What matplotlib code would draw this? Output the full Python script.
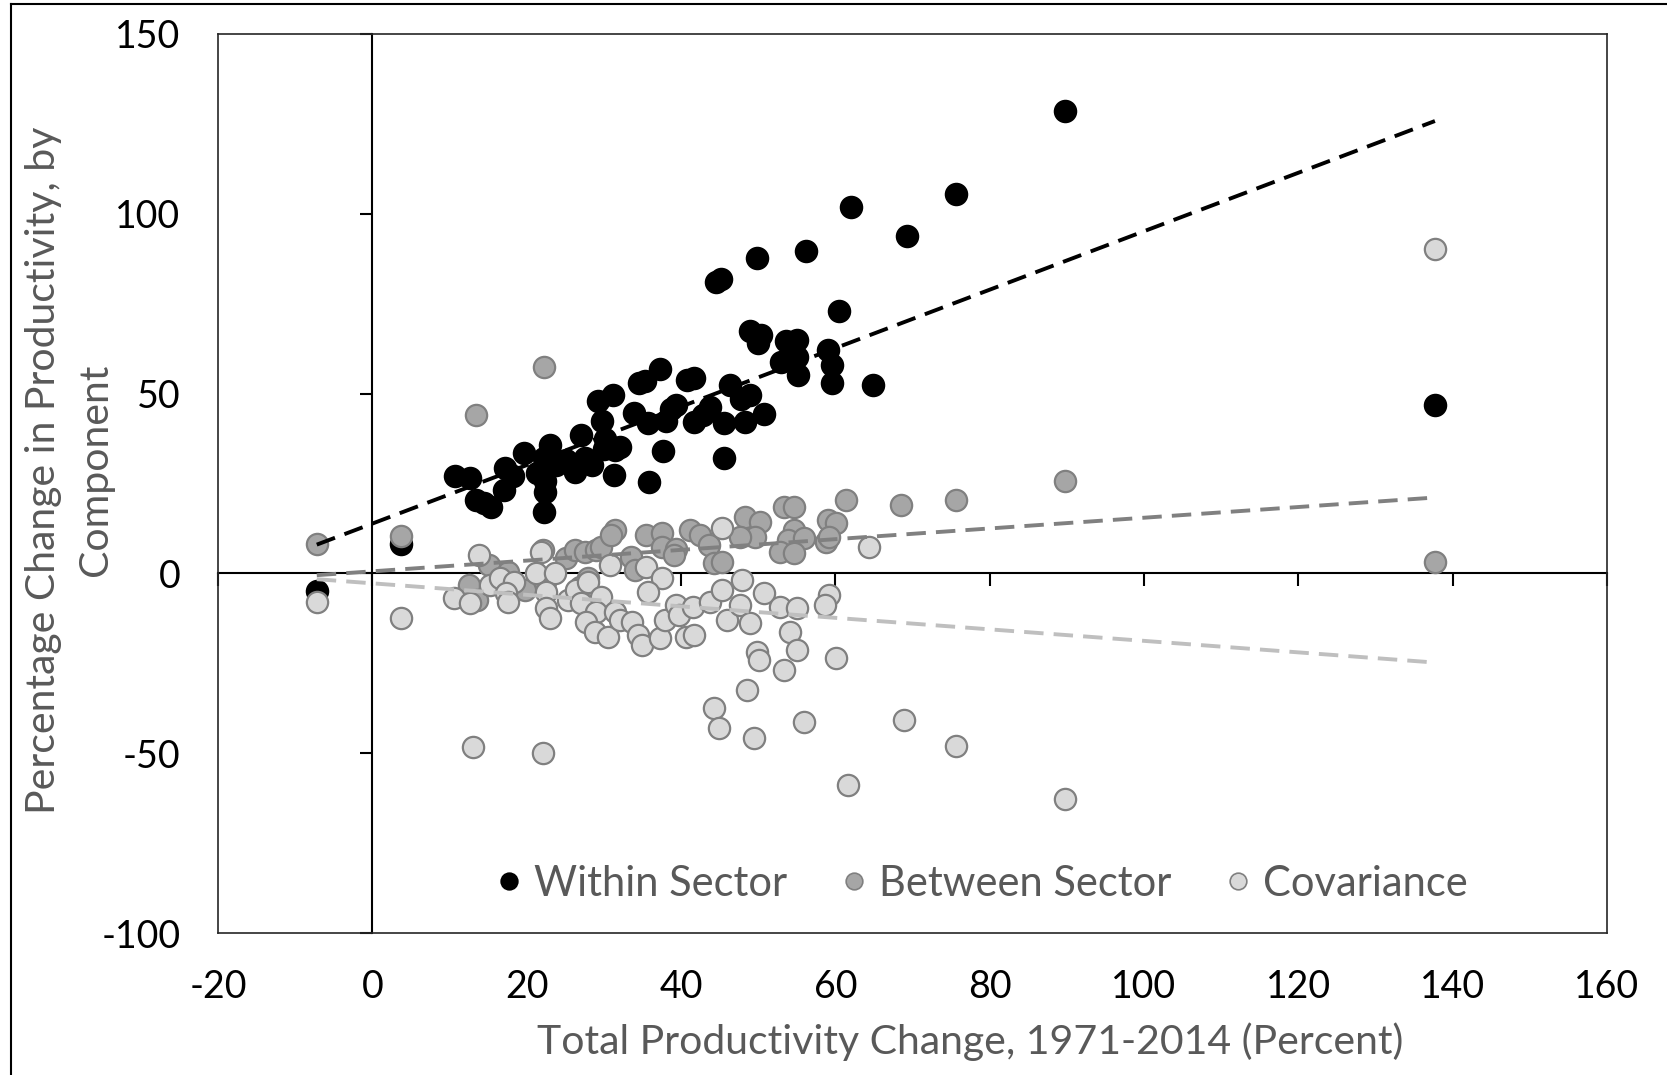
import numpy as np
import matplotlib
matplotlib.use("Agg")
import matplotlib.pyplot as plt
from matplotlib.lines import Line2D

plt.rcParams['font.family'] = ['Lato', 'DejaVu Sans']
plt.rcParams['axes.unicode_minus'] = False

# ------------------------------
# data
# ------------------------------
within_x = [-7.2, 3.7, 10.7, 12.7, 13.4, 14.5, 15.4, 17.1, 17.2, 18.2, 19.7, 21.3, 22.4, 22.4,
            22.3, 23.0, 22.3, 23.8, 25.1, 26.2, 27.0, 27.6, 28.5, 29.3, 29.8, 30.2, 31.2, 30.0,
            31.3, 31.4, 32.1, 33.9, 34.6, 35.3, 35.7, 35.8, 37.3, 37.7, 38.0, 38.7, 39.4, 40.8,
            41.7, 41.7, 42.8, 43.8, 44.5, 45.2, 45.6, 45.6, 46.3, 47.8, 48.3, 48.9, 48.9, 49.9,
            50.0, 50.4, 50.8, 53.0, 53.6, 55.0, 55.0, 55.2, 56.2, 59.1, 59.6, 59.6, 60.5, 62.0,
            64.9, 69.3, 75.6, 89.7, 137.7]
within_y = [-5.0, 8.3, 27.2, 26.6, 20.4, 19.5, 18.6, 23.1, 29.3, 27.2, 33.4, 27.8, 25.7, 22.5,
            17.2, 35.8, 32.2, 30.2, 31.4, 28.1, 38.5, 32.2, 30.2, 47.9, 42.3, 37.3, 49.7, 34.6,
            27.5, 34.3, 35.2, 44.7, 53.0, 53.6, 41.7, 25.4, 56.8, 34.0, 42.3, 45.6, 46.7, 53.8,
            54.4, 42.0, 44.1, 46.2, 81.0, 82.0, 32.2, 41.7, 52.4, 48.5, 42.0, 49.7, 67.5, 87.6,
            64.2, 66.3, 44.4, 58.9, 64.5, 64.8, 60.1, 55.3, 89.6, 62.1, 58.0, 53.0, 73.1, 101.8,
            52.4, 93.8, 105.6, 128.7, 46.7]

between_x = [-7.2, 3.7, 13.4, 22.3, 15.1, 12.5, 13.5, 17.6, 19.8, 22.1, 22.4, 25.1, 26.3, 27.5,
             29.0, 29.6, 31.4, 30.9, 27.9, 26.9, 33.5, 34.1, 35.4, 37.6, 37.6, 39.3, 39.1, 41.2,
             42.4, 43.6, 44.3, 45.3, 48.3, 50.2, 49.6, 47.6, 53.4, 54.7, 54.7, 53.9, 55.9, 52.8,
             54.6, 59.1, 60.1, 58.8, 59.2, 61.4, 68.5, 75.6, 89.7, 137.7]
between_y = [8.3, 10.4, 44.1, 57.4, 2.2, -3.3, -7.5, 0.3, -4.7, 6.5, -2.4, 4.2, 6.5, 6.0,
             6.5, 7.4, 12.0, 10.6, -1.3, -3.7, 4.5, 0.9, 10.6, 11.1, 7.4, 6.9, 5.0, 12.0,
             10.6, 7.8, 2.8, 3.1, 15.7, 14.3, 10.1, 10.1, 18.5, 18.5, 12.0, 9.3, 9.8, 6.0,
             5.6, 14.9, 14.0, 8.7, 10.1, 20.4, 19.0, 20.4, 25.7, 3.3]

cov_x = [-7.2, 3.7, 13.8, 10.6, 12.7, 15.3, 16.6, 18.3, 17.3, 17.6, 21.9, 21.2, 23.7, 22.5,
         22.5, 23.0, 25.4, 26.4, 27.9, 27.0, 30.8, 29.6, 29.0, 27.7, 28.8, 30.5, 31.4, 32.1,
         33.7, 34.4, 35.0, 35.4, 37.6, 35.7, 37.3, 37.9, 39.3, 39.8, 40.6, 41.7, 41.5, 43.8,
         45.3, 45.3, 46.0, 47.9, 47.6, 48.9, 50.7, 49.8, 50.1, 48.5, 52.8, 55.0, 54.1, 55.0,
         53.4, 59.2, 58.6, 60.1, 64.4, 13.1, 22.1, 44.3, 44.9, 49.4, 55.9, 61.7, 68.9, 75.7,
         89.7, 137.7]
cov_y = [-8.0, -12.4, 5.0, -6.9, -8.3, -3.3, -1.3, -2.4, -5.5, -8.0, 6.0, 0.0, 0.0, -5.2,
         -9.7, -12.4, -7.5, -4.7, -2.4, -8.3, 2.2, -6.6, -10.8, -13.5, -16.3, -17.7, -10.8, -13.0,
         -13.5, -17.1, -19.9, 1.7, -1.3, -5.2, -18.0, -13.0, -8.8, -11.6, -17.7, -17.1, -9.4, -8.0,
         -4.7, 12.5, -13.0, -1.8, -8.8, -13.9, -5.5, -21.9, -24.1, -32.5, -9.4, -9.7, -16.3, -21.3,
         -26.9, -6.1, -8.8, -23.6, 7.4, -48.3, -50.0, -37.5, -43.0, -45.8, -41.4, -58.9, -40.8, -47.9,
         -62.7, 90.2]

series_names = ["Within Sector", "Between Sector", "Covariance"]

# linear trendlines as shown on the chart (slope, intercept)
trend_slope = [0.813, 0.149, -0.160]
trend_intercept = [13.85, 0.58, -2.76]

# ------------------------------
# figure
# ------------------------------
fig = plt.figure(figsize=(16.67, 10.75), dpi=100)
ax = fig.add_axes([218/1667, 1-933/1075, (1607-218)/1667, (933-34)/1075])

xmin, xmax = -20, 160
ymin, ymax = -100, 150
ax.set_xlim(xmin, xmax)
ax.set_ylim(ymin, ymax)

pts = [(within_x, within_y, 'black', 'black'),
       (between_x, between_y, '#a6a6a6', '#808080'),
       (cov_x, cov_y, '#d9d9d9', '#808080')]
trend_colors = ['black', '#808080', '#bfbfbf']

for (xs, ys, fc, ec), name in zip(pts, series_names):
    ax.scatter(xs, ys, s=235, c=fc, edgecolors=ec, linewidths=1.6, zorder=3, label=name)

for (xs, ys, fc, ec), tc, k, b in zip(pts, trend_colors, trend_slope, trend_intercept):
    xl = np.array([min(xs), max(xs)])
    ax.plot(xl, k*xl + b, color=tc, lw=2.8, ls=(0, (5, 2.6)), zorder=4)

# frame
for sp in ax.spines.values():
    sp.set_linewidth(1.2)
    sp.set_color('#262626')

ax.set_xticks(np.arange(xmin, xmax+1, 20))
ax.set_yticks(np.arange(ymin, ymax+1, 50))
ax.tick_params(length=0, labelsize=27, pad=26)
ax.tick_params(axis='y', pad=27)

# axis lines crossing at zero
sx = ax.secondary_xaxis((0 - ymin) / (ymax - ymin))
sx.set_xticks(np.arange(xmin, xmax+1, 20))
sx.tick_params(direction='out', length=9, width=1.5)
sx.spines['bottom'].set_linewidth(1.5)
sx.set_xticklabels([])
sy = ax.secondary_yaxis((0 - xmin) / (xmax - xmin))
sy.set_yticks(np.arange(ymin, ymax+1, 50))
sy.tick_params(direction='out', length=9, width=1.5)
sy.spines['left'].set_linewidth(1.5)
sy.set_yticklabels([])

# labels
fig.text(970/1667, 1-1042/1075, "Total Productivity Change, 1971-2014 (Percent)",
         ha='center', va='center', fontsize=29.5, color='#595959')
fig.text(70/1667, 1-470/1075, "Percentage Change in Productivity, by\nComponent",
         ha='center', va='center', rotation=90, fontsize=29.5, color='#595959',
         linespacing=1.5, multialignment='center')

# legend
handles = [Line2D([], [], ls='', marker='o', ms=12, mfc=fc, mec=ec, mew=1.2)
           for (_, _, fc, ec) in pts]
leg = ax.legend(handles, series_names, loc='center', bbox_to_anchor=(0.551, 1-(884-34)/899),
                ncol=3, frameon=False, fontsize=30, handlelength=0.5, handletextpad=0.34,
                columnspacing=1.36, borderaxespad=0)
for t in leg.get_texts():
    t.set_color('#595959')

# outer border of the picture
fig.add_artist(Line2D([11/1667, 11/1667], [0, 1-4/1075], color='black', lw=1.5))
fig.add_artist(Line2D([11/1667, 1], [1-4/1075, 1-4/1075], color='black', lw=1.5))

fig.savefig("out.png", dpi=100)
